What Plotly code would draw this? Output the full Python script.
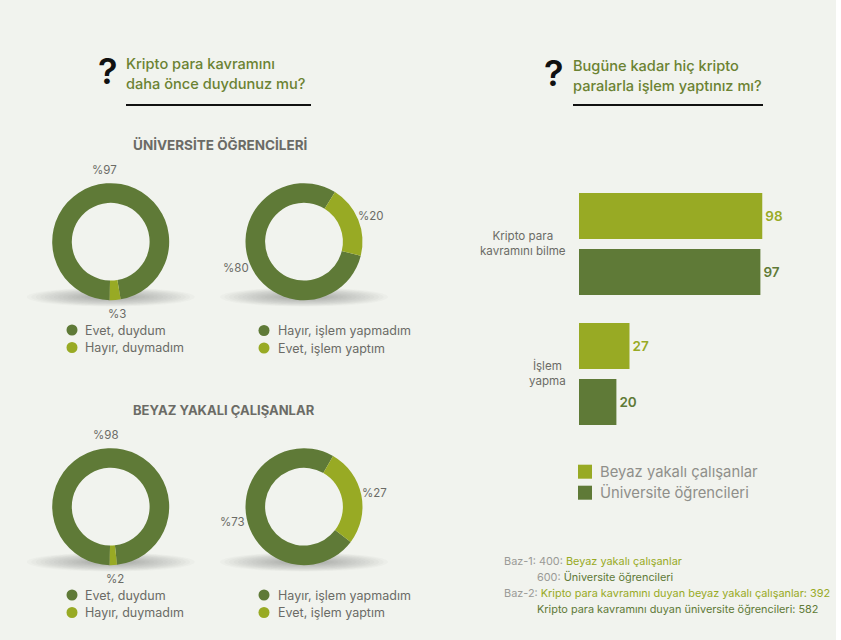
import plotly.graph_objects as go

W = 841
H = 640

DARK = "#5F7A37"
LIGHT = "#98AA24"
BG = "#F1F3EE"
GREY = "#6B6B66"
PALE = "#9A9A96"
TITLE = "#6B8232"
FONT = "Inter"

# donuts
heard_students = [97, 3]
heard_workers = [98, 2]
trade_students = [80, 20]
trade_workers = [73, 27]
heard_names = ["Evet, duydum", "Hayır, duymadım"]
trade_names = ["Hayır, işlem yapmadım", "Evet, işlem yaptım"]

# bars
bar_categories = ["Kripto para<br>kavramını bilme", "İşlem<br>yapma"]
bar_workers = [98, 27]
bar_students = [97, 20]
bar_names = ["Beyaz yakalı çalışanlar", "Üniversite öğrencileri"]


def px(x):
    return x / W


def py(y):
    return 1 - y / H


def donut(values, names, cx, cy, rotation):
    r = 58.5
    return go.Pie(
        values=values, labels=names, sort=False, direction="clockwise", rotation=rotation,
        hole=0.665, textinfo="none", showlegend=False,
        marker=dict(colors=[DARK, LIGHT], line=dict(width=0)),
        domain=dict(x=[px(cx - r), px(cx + r)], y=[py(cy + r), py(cy - r)]),
    )


def text(x, y, s, size=12.5, color=GREY, anchor="left", weight=400):
    return dict(x=px(x), y=py(y), xref="paper", yref="paper", text=s, showarrow=False,
                xanchor=anchor, yanchor="middle", align="left", borderpad=0, borderwidth=0,
                font=dict(family=FONT, size=size, color=color, weight=weight))


def tint(s, color):
    return f'<span style="color:{color}">{s}</span>'


def shadow(cx, cy):
    # soft blur faked with stacked see-through ellipses
    out = []
    for i in range(14):
        rx = 84 - i * 4.5
        ry = 9.5 - i * 0.55
        out.append(dict(type="circle", xref="paper", yref="paper", layer="below",
                        x0=px(cx - rx), x1=px(cx + rx), y0=py(cy + ry), y1=py(cy - ry),
                        fillcolor="rgba(70,70,65,0.028)", line_width=0))
    return out


def dot(cx, cy, color):
    return dict(type="circle", xref="paper", yref="paper",
                x0=px(cx - 5.5), x1=px(cx + 5.5), y0=py(cy + 5.5), y1=py(cy - 5.5),
                fillcolor=color, line_width=0)


def square(x, cy, color):
    return dict(type="rect", xref="paper", yref="paper",
                x0=px(x), x1=px(x + 14), y0=py(cy + 7), y1=py(cy - 7),
                fillcolor=color, line_width=0)


def rule(x0, x1, y):
    return dict(type="line", xref="paper", yref="paper", x0=px(x0), x1=px(x1), y0=py(y), y1=py(y),
                line=dict(color="#111111", width=2))


fig = go.Figure()

fig.add_trace(donut(heard_students, heard_names, 110.7, 241.7, 181))
fig.add_trace(donut(trade_students, trade_names, 304, 241.7, 104))
fig.add_trace(donut(heard_workers, heard_names, 110.7, 506.7, 181))
fig.add_trace(donut(trade_workers, trade_names, 304, 506.7, 127))

fig.add_trace(go.Bar(
    y=bar_categories, x=bar_workers, name=bar_names[0], orientation="h", marker_color=LIGHT,
    marker_line_width=0, text=bar_workers, textposition="outside", cliponaxis=False,
    textfont=dict(family=FONT, size=13.5, color=LIGHT, weight=600), showlegend=False,
))
fig.add_trace(go.Bar(
    y=bar_categories, x=bar_students, name=bar_names[1], orientation="h", marker_color=DARK,
    marker_line_width=0, text=bar_students, textposition="outside", cliponaxis=False,
    textfont=dict(family=FONT, size=13.5, color=DARK, weight=600), showlegend=False,
))

annotations = [
    text(107.5, 71, "?", size=36, color="#111111", anchor="center", weight=600),
    text(126, 64, "Kripto para kavramını", size=14.6, color=TITLE, weight=500),
    text(126, 84, "daha önce duydunuz mu?", size=14.6, color=TITLE, weight=500),
    text(554, 73, "?", size=36, color="#111111", anchor="center", weight=600),
    text(573, 66, "Bugüne kadar hiç kripto", size=14.6, color=TITLE, weight=500),
    text(573, 86, "paralarla işlem yaptınız mı?", size=14.6, color=TITLE, weight=500),
    text(220, 145, "ÜNİVERSİTE ÖĞRENCİLERİ", size=13.5, anchor="center", weight=700),
    text(223.5, 410, "BEYAZ YAKALI ÇALIŞANLAR", size=13, anchor="center", weight=700),
    text(104, 170, f"%{heard_students[0]}", size=11.5, anchor="center"),
    text(117, 314, f"%{heard_students[1]}", size=11.5, anchor="center"),
    text(371, 216, f"%{trade_students[1]}", size=11.5, anchor="center"),
    text(236, 268, f"%{trade_students[0]}", size=11.5, anchor="center"),
    text(106, 435, f"%{heard_workers[0]}", size=11.5, anchor="center"),
    text(115, 579, f"%{heard_workers[1]}", size=11.5, anchor="center"),
    text(374, 493, f"%{trade_workers[1]}", size=11.5, anchor="center"),
    text(232, 522, f"%{trade_workers[0]}", size=11.5, anchor="center"),
]

shapes = [
    dict(type="rect", xref="paper", yref="paper", x0=0, x1=px(836), y0=0, y1=1,
         fillcolor=BG, line_width=0, layer="below"),
    rule(126, 311, 105),
    rule(573, 763, 105),
    square(578, 471.7, LIGHT),
    square(578, 492.7, DARK),
]
for cx, cy in [(110.7, 297), (304, 297), (110.7, 562), (304, 562)]:
    shapes += shadow(cx, cy)

for y0, x_dot, x_txt, names in [
    (330, 72, 85, heard_names), (330.5, 264, 278, trade_names),
    (595, 72, 85, heard_names), (595, 264, 278, trade_names),
]:
    for i, c in enumerate([DARK, LIGHT]):
        shapes.append(dot(x_dot, y0 + i * 17.5, c))
        annotations.append(text(x_txt, y0 + i * 17.5, names[i]))

annotations.append(text(600, 471.7, bar_names[0], size=14.8, color="#8F8F8A"))
annotations.append(text(600, 492.7, bar_names[1], size=14.8, color="#8F8F8A"))

# category labels are centred on themselves, tick labels can only be right aligned here
for c in bar_categories:
    annotations.append(dict(x=0, y=c, xref="x", yref="y", text=c, showarrow=False, xanchor="right",
                            xshift=-12, yshift=1, align="center", borderpad=0,
                            font=dict(family=FONT, size=11.6, color=GREY)))

foot = 10.9
annotations += [
    text(504, 561, "Baz-1: 400: " + tint("Beyaz yakalı çalışanlar", LIGHT), size=foot, color=PALE),
    text(537, 577, "600: " + tint("Üniversite öğrencileri", DARK), size=foot, color=PALE),
    text(504, 593, "Baz-2: " + tint("Kripto para kavramını duyan beyaz yakalı çalışanlar: 392", LIGHT),
         size=foot, color=PALE),
    text(537, 609, "Kripto para kavramını duyan üniversite öğrencileri: 582", size=foot, color=DARK),
]

fig.update_layout(
    width=W, height=H, margin=dict(l=0, r=0, t=0, b=0),
    paper_bgcolor="white", plot_bgcolor="rgba(0,0,0,0)",
    barmode="group", bargap=0.1385, bargroupgap=0.1786,
    xaxis=dict(domain=[px(579), px(766)], range=[0, 100], visible=False),
    yaxis=dict(domain=[py(439), py(179)], range=[1.5, -0.5], visible=False),
    annotations=annotations, shapes=shapes,
)

fig.write_html("out.html", config=dict(displayModeBar=False),
               post_script="document.body.style.margin='0';")
